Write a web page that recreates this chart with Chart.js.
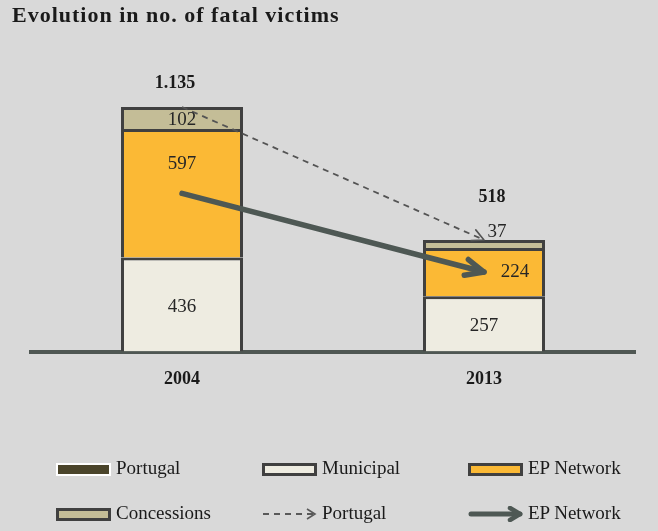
<!DOCTYPE html>
<html>
<head>
<meta charset="utf-8">
<script src="https://cdn.jsdelivr.net/npm/chart.js@4/dist/chart.umd.min.js"></script>
<style>
body { margin: 0; background: #d9d9d9; }
#wrap { position: relative; width: 658px; height: 531px; background: #d9d9d9; font-family: "Liberation Serif", serif; color: #1a1a1a; overflow: hidden; }
#cw { position: absolute; left: 0; top: 0; width: 658px; height: 531px; }
#title { position: absolute; left: 12px; top: 3px; font-size: 22px; line-height: 24px; font-weight: bold; letter-spacing: 1px; white-space: nowrap; }
.sw { position: absolute; box-sizing: border-box; width: 55px; height: 13px; }
.txt { position: absolute; font-size: 19px; line-height: 22px; white-space: nowrap; }
svg.sw { border: none; height: 16px; }
</style>
</head>
<body>
<div id="wrap">
  <div id="cw"><canvas id="chart"></canvas></div>
  <div id="title">Evolution in no. of fatal victims</div>

  <div class="sw" style="left:56px;top:463px;background:#4a442a;border:2px solid #fff;"></div>
  <div class="txt" style="left:116px;top:457px;">Portugal</div>
  <div class="sw" style="left:262px;top:463px;background:#eeece1;border:3px solid #404040;"></div>
  <div class="txt" style="left:322px;top:457px;">Municipal</div>
  <div class="sw" style="left:468px;top:463px;background:#fbb935;border:3px solid #404040;"></div>
  <div class="txt" style="left:528px;top:457px;">EP Network</div>

  <div class="sw" style="left:56px;top:508px;background:#c4bd97;border:3px solid #404040;"></div>
  <div class="txt" style="left:116px;top:502px;">Concessions</div>
  <svg class="sw" style="left:262px;top:506px;" width="56" height="16">
    <line x1="1" y1="8" x2="52" y2="8" stroke="#595959" stroke-width="2" stroke-dasharray="6,5"/>
    <polyline points="45,3 53,8 45,13" fill="none" stroke="#595959" stroke-width="1.6"/>
  </svg>
  <div class="txt" style="left:322px;top:502px;">Portugal</div>
  <svg class="sw" style="left:468px;top:506px;" width="56" height="16">
    <line x1="3" y1="8" x2="52" y2="8" stroke="#4e5854" stroke-width="5" stroke-linecap="round"/>
    <polyline points="42,2 52,8 42,14" fill="none" stroke="#4e5854" stroke-width="4.5" stroke-linecap="round" stroke-linejoin="round"/>
  </svg>
  <div class="txt" style="left:528px;top:502px;">EP Network</div>
</div>

<script>
// data
const years = ['2004', '2013'];
const municipal = [436, 257];
const epNetwork = [597, 224];
const concessions = [102, 37];
const totals = [1135, 518];
// middle of the EP Network segment, where the solid arrow runs
const epArrow = [734, 369];

// label nudges in pixels (dx, dy), per category
const labelShift = {
  'EP Network': [[0, -29], [31, 0]],
  'Concessions': [[0, 1.5], [13, -12]]
};
const totalShift = [[-7, -23.5], [8, -42.5]];

function fmt(n) {
  return String(n).replace(/\B(?=(\d{3})+(?!\d))/g, '.');
}

const segLabels = {
  id: 'segLabels',
  afterDatasetsDraw(chart) {
    const ctx = chart.ctx;
    ctx.save();
    ctx.textAlign = 'center';
    ctx.textBaseline = 'middle';
    ctx.fillStyle = '#262626';
    ctx.font = '19px "Liberation Serif"';
    chart.data.datasets.forEach((ds, i) => {
      if (ds.type !== 'bar') return;
      chart.getDatasetMeta(i).data.forEach((bar, j) => {
        const sh = (labelShift[ds.label] || [])[j] || [0, 2];
        ctx.fillText(fmt(ds.data[j]), bar.x + sh[0], (bar.y + bar.base) / 2 + sh[1]);
      });
    });
    ctx.font = 'bold 18px "Liberation Serif"';
    ctx.fillStyle = '#1a1a1a';
    totals.forEach((t, j) => {
      const x = chart.scales.x.getPixelForValue(j);
      const y = chart.scales.y.getPixelForValue(t);
      ctx.fillText(fmt(t), x + totalShift[j][0], y + totalShift[j][1]);
    });
    ctx.restore();
  }
};

const arrowHeads = {
  id: 'arrowHeads',
  afterDatasetsDraw(chart) {
    const ctx = chart.ctx;
    chart.data.datasets.forEach((ds, i) => {
      if (!ds.arrow) return;
      const pts = chart.getDatasetMeta(i).data;
      const a = pts[pts.length - 2], b = pts[pts.length - 1];
      const ang = Math.atan2(b.y - a.y, b.x - a.x);
      const h = ds.arrow;
      ctx.save();
      ctx.strokeStyle = ds.borderColor;
      ctx.lineWidth = h.lw;
      ctx.lineCap = 'round';
      ctx.lineJoin = 'round';
      ctx.beginPath();
      ctx.moveTo(b.x - h.len * Math.cos(ang - h.spread), b.y - h.len * Math.sin(ang - h.spread));
      ctx.lineTo(b.x, b.y);
      ctx.lineTo(b.x - h.len * Math.cos(ang + h.spread), b.y - h.len * Math.sin(ang + h.spread));
      ctx.stroke();
      ctx.restore();
    });
  }
};

new Chart(document.getElementById('chart'), {
  type: 'bar',
  data: {
    labels: years,
    datasets: [
      {
        type: 'line', label: 'Portugal', data: totals, stack: 'pt', order: 0,
        borderColor: '#545454', borderWidth: 1.8, borderDash: [6, 5],
        pointRadius: 0, fill: false,
        arrow: { len: 13, lw: 1.6, spread: 0.47 }
      },
      {
        type: 'line', label: 'EP Network', data: epArrow, stack: 'ep', order: 0,
        borderColor: '#4e5854', borderWidth: 5.5, borderCapStyle: 'round',
        pointRadius: 0, fill: false,
        arrow: { len: 20, lw: 5.5, spread: 0.42 }
      },
      { type: 'bar', label: 'Municipal', data: municipal, backgroundColor: '#eeece1', stack: 'bars', order: 1 },
      { type: 'bar', label: 'EP Network', data: epNetwork, backgroundColor: '#fbb935', stack: 'bars', order: 1 },
      { type: 'bar', label: 'Concessions', data: concessions, backgroundColor: '#c4bd97', stack: 'bars', order: 1 }
    ]
  },
  options: {
    responsive: true,
    maintainAspectRatio: false,
    animation: false,
    layout: { padding: { left: 31, right: 23, top: 71.5, bottom: 139.5 } },
    datasets: {
      bar: { borderColor: '#404040', borderWidth: 3, barPercentage: 0.404, categoryPercentage: 1 }
    },
    plugins: {
      legend: { display: false },
      tooltip: { enabled: false },
      title: { display: false }
    },
    scales: {
      x: {
        stacked: true,
        offset: true,
        grid: { display: false, drawTicks: false },
        border: { display: true, color: '#4f5753', width: 4 },
        ticks: { color: '#1a1a1a', padding: 17, font: { family: 'Liberation Serif', size: 18, weight: 'bold' } },
        afterFit(scale) { scale.height = 40; }
      },
      y: {
        display: false,
        stacked: true,
        min: 0,
        max: 1300
      }
    }
  },
  plugins: [segLabels, arrowHeads]
});
</script>
</body>
</html>
